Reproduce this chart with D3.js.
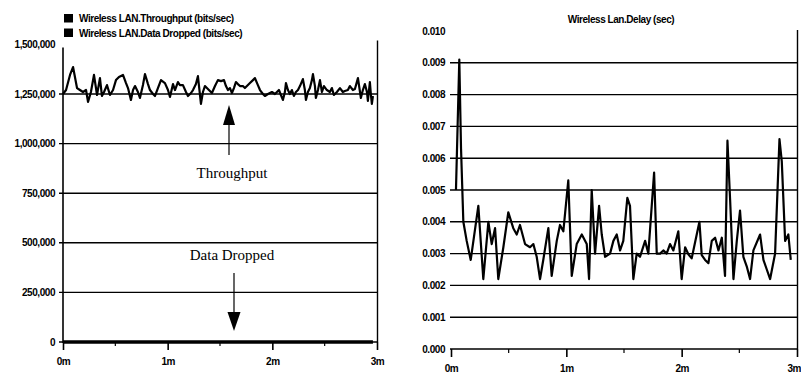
<!DOCTYPE html>
<html><head><meta charset="utf-8">
<script src="https://cdn.jsdelivr.net/npm/d3@7"></script>
<style>
body{margin:0;background:#fff;}
svg{display:block;}
.lab{font-family:"Liberation Sans Narrow","Arial Narrow","Liberation Sans",Arial,sans-serif;font-weight:bold;font-size:10px;letter-spacing:-0.45px;fill:#000;}
.ann{font-family:"Liberation Serif","Times New Roman",serif;font-size:15px;fill:#000;}
</style></head>
<body><svg id="c" width="801" height="377"></svg>
<script>
// ---- data ----
const xTickLabels = ["0m","1m","2m","3m"];
const leftYTicks = [0,250000,500000,750000,1000000,1250000,1500000];
const rightYTicks = [0,0.001,0.002,0.003,0.004,0.005,0.006,0.007,0.008,0.009,0.010];
const legendLabels = ["Wireless LAN.Throughput (bits/sec)","Wireless LAN.Data Dropped (bits/sec)"];
const rightTitle = "Wireless Lan.Delay (sec)";

// throughput: time (minutes), bits/sec
const thrTimes = [0,0.029,0.067,0.096,0.134,0.162,0.191,0.220,0.239,0.267,0.296,0.325,0.353,0.372,0.392,0.420,0.449,0.478,0.506,0.535,0.573,0.602,0.621,0.649,0.669,0.688,0.716,0.735,0.764,0.783,0.812,0.831,0.860,0.879,0.907,0.936,0.974,1.003,1.022,1.051,1.070,1.098,1.117,1.146,1.175,1.194,1.223,1.242,1.270,1.289,1.318,1.337,1.356,1.394,1.423,1.452,1.480,1.509,1.538,1.557,1.576,1.595,1.614,1.633,1.652,1.671,1.691,1.719,1.738,1.767,1.786,1.815,1.834,1.862,1.882,1.910,1.929,1.958,1.996,2.025,2.063,2.082,2.101,2.120,2.130,2.149,2.168,2.187,2.206,2.225,2.245,2.264,2.292,2.311,2.321,2.340,2.359,2.378,2.388,2.407,2.416,2.436,2.455,2.474,2.493,2.521,2.550,2.569,2.588,2.617,2.646,2.674,2.693,2.722,2.741,2.770,2.789,2.818,2.846,2.865,2.884,2.904,2.913,2.932,2.942,2.951,2.961];
const thrValues = [1250000,1270000,1346000,1386000,1280000,1270000,1260000,1270000,1210000,1260000,1346000,1245000,1330000,1240000,1260000,1295000,1245000,1270000,1320000,1336000,1346000,1305000,1280000,1220000,1270000,1290000,1260000,1230000,1295000,1350000,1300000,1270000,1250000,1240000,1280000,1320000,1305000,1270000,1235000,1300000,1270000,1310000,1295000,1295000,1260000,1240000,1255000,1270000,1300000,1340000,1200000,1260000,1290000,1270000,1255000,1290000,1320000,1315000,1320000,1290000,1270000,1280000,1255000,1280000,1310000,1300000,1290000,1290000,1280000,1295000,1305000,1320000,1330000,1295000,1270000,1250000,1240000,1250000,1260000,1250000,1270000,1245000,1220000,1260000,1305000,1270000,1250000,1270000,1240000,1260000,1270000,1290000,1325000,1270000,1220000,1260000,1280000,1320000,1350000,1290000,1230000,1270000,1320000,1260000,1290000,1270000,1260000,1280000,1245000,1260000,1280000,1260000,1265000,1270000,1290000,1270000,1275000,1330000,1230000,1270000,1300000,1260000,1215000,1310000,1245000,1200000,1240000];

// data dropped: time (minutes), bits/sec
const dropTimes = [0, 2.961];
const dropValues = [0, 0];

// delay: time (minutes), seconds
const delayTimes = [0.043,0.072,0.087,0.107,0.136,0.171,0.237,0.280,0.324,0.353,0.382,0.410,0.454,0.497,0.540,0.570,0.598,0.642,0.685,0.714,0.743,0.772,0.800,0.844,0.873,0.917,0.945,0.974,1.017,1.047,1.090,1.134,1.177,1.197,1.220,1.249,1.284,1.307,1.336,1.379,1.408,1.437,1.466,1.494,1.529,1.552,1.581,1.610,1.639,1.683,1.711,1.761,1.784,1.813,1.841,1.870,1.899,1.928,1.971,2.000,2.030,2.058,2.087,2.116,2.154,2.174,2.203,2.232,2.261,2.290,2.319,2.348,2.376,2.397,2.420,2.449,2.478,2.506,2.535,2.564,2.593,2.622,2.680,2.709,2.738,2.767,2.810,2.848,2.868,2.897,2.925,2.946];
const delayValues = [0.0050,0.0091,0.0063,0.0040,0.0034,0.0028,0.0045,0.0022,0.0040,0.0033,0.0038,0.0022,0.0032,0.0043,0.0038,0.0036,0.0039,0.0033,0.0032,0.0033,0.0029,0.0022,0.0028,0.0038,0.0023,0.0034,0.0039,0.0037,0.0053,0.0023,0.0033,0.0036,0.0033,0.0022,0.0050,0.0030,0.0045,0.0036,0.0029,0.0030,0.0034,0.0036,0.0031,0.0034,0.00475,0.0045,0.0022,0.0030,0.0029,0.0034,0.0030,0.00555,0.0030,0.0030,0.0031,0.0030,0.0033,0.0031,0.0037,0.0022,0.0032,0.00298,0.00285,0.00335,0.0040,0.00295,0.0028,0.0027,0.0034,0.0035,0.0031,0.0035,0.0023,0.00655,0.0047,0.0022,0.0034,0.00435,0.0029,0.0026,0.0022,0.0031,0.0036,0.0028,0.0025,0.0022,0.0030,0.0066,0.0059,0.0034,0.0036,0.0028];

// ---- drawing ----
const svg = d3.select("#c");
const fmtComma = d3.format(",");
const fmt3 = d3.format(".3f");

// ===== LEFT CHART =====
const lx = d3.scaleLinear().domain([0,3]).range([63,377]);
const ly = d3.scaleLinear().domain([0,1500000]).range([342,44.4]);
const L = svg.append("g");

L.selectAll("line.grid").data(leftYTicks.filter(v=>v>0 && v<1500000)).join("line")
  .attr("x1",59).attr("x2",378).attr("y1",d=>ly(d)).attr("y2",d=>ly(d))
  .attr("stroke","#000").attr("stroke-width",1.4);
L.selectAll("text.yl").data(leftYTicks).join("text").attr("class","lab")
  .attr("x",55).attr("y",d=>ly(d)+3.5).attr("text-anchor","end").text(d=>fmtComma(d));
L.append("line").attr("x1",63).attr("x2",63).attr("y1",ly(1500000)+3).attr("y2",343).attr("stroke","#000").attr("stroke-width",1.6);
L.append("line").attr("x1",377.5).attr("x2",377.5).attr("y1",ly(1500000)-4).attr("y2",342).attr("stroke","#000").attr("stroke-width",1.4);
L.append("line").attr("x1",59).attr("x2",378).attr("y1",342).attr("y2",342).attr("stroke","#000").attr("stroke-width",1.6);
const lxAxis = d3.axisBottom(lx).tickValues([0,1,2,3]).tickFormat((d,i)=>xTickLabels[i]).tickSize(8).tickSizeOuter(0);
const lax = L.append("g").attr("transform","translate(0,342)").call(lxAxis);
lax.select(".domain").remove();
lax.selectAll("line").attr("stroke","#000").attr("stroke-width",1.6);
lax.selectAll("text").attr("class","lab").attr("dy",0).attr("y",23);
L.selectAll("line.minor").data([0.5,1.5,2.5]).join("line")
  .attr("x1",d=>lx(d)).attr("x2",d=>lx(d)).attr("y1",342).attr("y2",346).attr("stroke","#000").attr("stroke-width",1.2);
const lline = d3.line().x(d=>lx(d[0])).y(d=>ly(d[1]));
L.append("path").attr("d",lline(dropTimes.map((t,i)=>[t,dropValues[i]])))
  .attr("fill","none").attr("stroke","#000").attr("stroke-width",3.5);
L.append("path").attr("d",lline(thrTimes.map((t,i)=>[t,thrValues[i]])))
  .attr("fill","none").attr("stroke","#000").attr("stroke-width",2.2).attr("stroke-linejoin","round");
legendLabels.forEach((s,i)=>{
  L.append("rect").attr("x",64).attr("y",14+i*14.5).attr("width",9).attr("height",8.5).attr("fill","#000");
  L.append("text").attr("class","lab").attr("x",79).attr("y",22+i*14.5).text(s);
});
L.append("text").attr("class","ann").attr("x",232).attr("y",178).attr("text-anchor","middle").text("Throughput");
L.append("line").attr("x1",229).attr("x2",229).attr("y1",155).attr("y2",122).attr("stroke","#000").attr("stroke-width",1.2);
L.append("path").attr("d","M229,105 L223,125 L235,125 Z").attr("fill","#000");
L.append("text").attr("class","ann").attr("x",232).attr("y",260).attr("text-anchor","middle").text("Data Dropped");
L.append("line").attr("x1",234).attr("x2",234).attr("y1",273).attr("y2",314).attr("stroke","#000").attr("stroke-width",1.2);
L.append("path").attr("d","M234,331 L227.5,312 L240.5,312 Z").attr("fill","#000");

// ===== RIGHT CHART =====
const rx = d3.scaleLinear().domain([0,3]).range([451,797]);
const ry = d3.scaleLinear().domain([0,0.010]).range([349,31]);
const R = svg.append("g");
R.selectAll("line.grid").data(rightYTicks.filter(v=>v>0 && v<0.010)).join("line")
  .attr("x1",450).attr("x2",797).attr("y1",d=>ry(d)).attr("y2",d=>ry(d))
  .attr("stroke","#000").attr("stroke-width",1.4);
R.selectAll("text.yl").data(rightYTicks).join("text").attr("class","lab")
  .attr("x",445).attr("y",d=>ry(d)+3.5).attr("text-anchor","end").text(d=>fmt3(d));
R.append("line").attr("x1",797.5).attr("x2",797.5).attr("y1",ry(0.010)-1).attr("y2",349).attr("stroke","#000").attr("stroke-width",1.4);
R.append("line").attr("x1",450).attr("x2",798).attr("y1",349).attr("y2",349).attr("stroke","#000").attr("stroke-width",1.6);
const rxAxis = d3.axisBottom(rx).tickValues([0,1,2,3]).tickFormat((d,i)=>xTickLabels[i]).tickSize(8).tickSizeOuter(0);
const rax = R.append("g").attr("transform","translate(0,349)").call(rxAxis);
rax.select(".domain").remove();
rax.selectAll("line").attr("stroke","#000").attr("stroke-width",1.6);
rax.selectAll("text").attr("class","lab").attr("dy",0).attr("y",23)
  .attr("text-anchor",(d,i)=>i===3?"end":"middle")
  .attr("x",(d,i)=>i===3?3.5:0);
R.selectAll("line.minor").data([0.5,1.5,2.5]).join("line")
  .attr("x1",d=>rx(d)).attr("x2",d=>rx(d)).attr("y1",349).attr("y2",353).attr("stroke","#000").attr("stroke-width",1.2);
const rline = d3.line().x(d=>rx(d[0])).y(d=>ry(d[1]));
R.append("path").attr("d",rline(delayTimes.map((t,i)=>[t,delayValues[i]])))
  .attr("fill","none").attr("stroke","#000").attr("stroke-width",2.2).attr("stroke-linejoin","round");
R.append("text").attr("class","lab").attr("x",621).attr("y",23).attr("text-anchor","middle").text(rightTitle);
</script></body></html>
